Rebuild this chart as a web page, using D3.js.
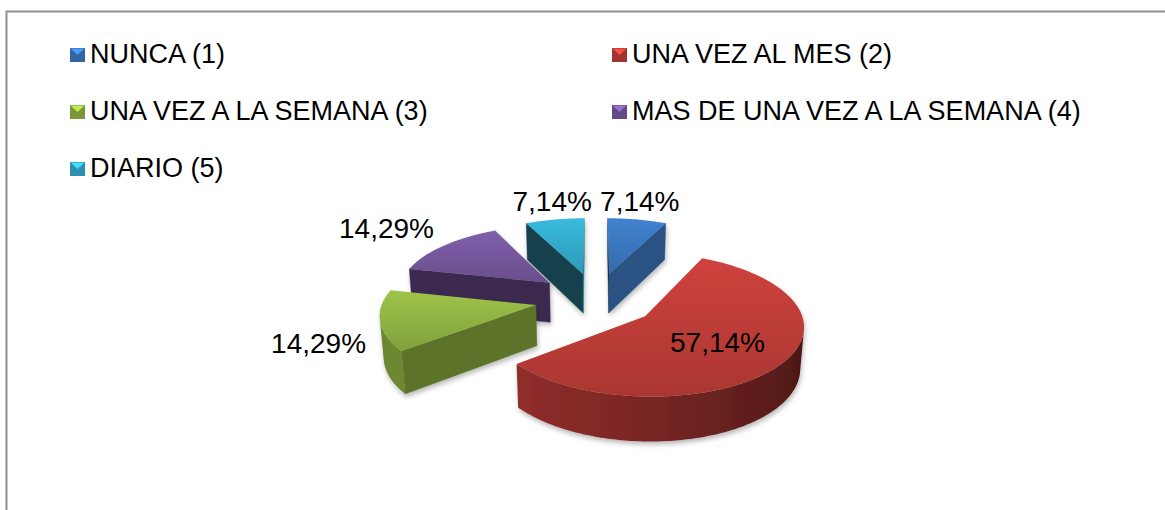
<!DOCTYPE html>
<html>
<head>
<meta charset="utf-8">
<script src="https://cdn.jsdelivr.net/npm/d3@7"></script>
<style>
  body { margin: 0; background: #fff; }
  text { font-family: "Liberation Sans", Arial, sans-serif; fill: #000; }
</style>
</head>
<body>
<div id="chart"></div>
<script>
// Data
const categories = [
  "NUNCA (1)",
  "UNA VEZ AL MES (2)",
  "UNA VEZ A LA SEMANA (3)",
  "MAS DE UNA VEZ A LA SEMANA (4)",
  "DIARIO (5)"
];
const counts = [1, 8, 2, 2, 1];

////////////////////////////////////////////////////////////////////////

let width = 1165;
let height = 510;

let svg = d3.select("#chart")
  .append("svg")
  .attr("width", width).attr("height", height);

let defs = svg.append("defs");

// soft shadow under each slice
let shadow = defs.append("filter").attr("id", "shadow")
  .attr("x", "-20%").attr("y", "-20%").attr("width", "140%").attr("height", "150%");
shadow.append("feDropShadow")
  .attr("dx", 1).attr("dy", 3).attr("stdDeviation", 2.5)
  .attr("flood-color", "#000").attr("flood-opacity", 0.28);

// chart frame (only top and left edges are inside the picture)
svg.append("path")
  .attr("d", "M6.5," + (height + 5) + "V11.5H" + (width + 5))
  .attr("fill", "none")
  .attr("stroke", "#8f8f8f")
  .attr("stroke-width", 2);

let color = d3.scaleOrdinal()
  .domain(categories)
  .range(["#3c79c2", "#c13d39", "#93b644", "#77589f", "#34adcf"]);

let total = d3.sum(counts);
let fmt = d3.formatLocale({decimal: ",", thousands: ".", grouping: [3], currency: ["", ""]}).format(".2%");

////////////////////////////////////////////////////////////////////////
// 3D projection of the pie: x right, y away from viewer, z up
const tilt = 28 * Math.PI / 180;
const camDist = 8, focal = 1200;
const explode = 0.4, depth = 0.3;
const cx = 596, cy = 299;

function rawProj(x, y, z) {
  let yc = z * Math.cos(tilt) + y * Math.sin(tilt);
  let dc = camDist + y * Math.cos(tilt) - z * Math.sin(tilt);
  return [focal * x / dc, -focal * yc / dc];
}
const origin = rawProj(0, 0, depth);
function proj(x, y, z) {
  let p = rawProj(x, y, z);
  return [cx + p[0] - origin[0], cy + p[1] - origin[1]];
}
const cam = [0, -camDist * Math.cos(tilt)];
function facing(px, py, ang) {
  return (cam[0] - px) * Math.sin(ang) + (cam[1] - py) * Math.cos(ang) > 0;
}
function shade(base, k) {
  let c = d3.rgb(base);
  return d3.rgb(c.r * k, c.g * k, c.b * k).formatHex();
}
function clamp01(v) { return Math.max(0, Math.min(1, v)); }

let arcs = d3.pie().sort(null).value(d => d)(counts).map((a, i) => {
  let m = (a.startAngle + a.endAngle) / 2;
  return Object.assign(a, {
    i: i, m: m, name: categories[i],
    ox: explode * Math.sin(m), oy: explode * Math.cos(m)
  });
});

function rim(a, t, z) {
  return proj(a.ox + Math.sin(t), a.oy + Math.cos(t), z);
}
function poly(pts) {
  return "M" + pts.map(p => p[0].toFixed(2) + "," + p[1].toFixed(2)).join("L") + "Z";
}
const lightAng = 250 * Math.PI / 180;
function wallShade(t) {
  return 0.35 + 0.4 * (Math.cos(t - lightAng) + 1) / 2;
}

// far slices first
let order = arcs.slice().sort((a, b) => b.oy - a.oy);

order.forEach(a => {
  let g = svg.append("g").attr("filter", "url(#shadow)");
  let base = color(a.name);

  // radial walls
  [[a.startAngle, a.startAngle - Math.PI / 2], [a.endAngle, a.endAngle + Math.PI / 2]].forEach(w => {
    if (!facing(a.ox, a.oy, w[1])) return;
    let k = 0.35 + 0.35 * (Math.cos(w[1] - Math.PI / 2) + 1) / 2;
    let c = shade(base, k);
    g.append("path")
      .attr("d", poly([proj(a.ox, a.oy, depth), rim(a, w[0], depth), rim(a, w[0], 0), proj(a.ox, a.oy, 0)]))
      .attr("fill", c).attr("stroke", c).attr("stroke-width", 0.4);
  });

  // outer curved wall: visible runs drawn as one path with a horizontal gradient
  let n = Math.ceil((a.endAngle - a.startAngle) / (Math.PI / 180));
  let step = (a.endAngle - a.startAngle) / n;
  let runs = [], cur = null;
  for (let s = 0; s <= n; s++) {
    let t = a.startAngle + s * step;
    if (facing(a.ox + Math.sin(t), a.oy + Math.cos(t), t)) {
      if (!cur) { cur = []; runs.push(cur); }
      cur.push(t);
    } else {
      cur = null;
    }
  }
  runs.forEach((run, ri) => {
    if (run.length < 2) return;
    let top = run.map(t => rim(a, t, depth));
    let bot = run.map(t => rim(a, t, 0)).reverse();
    let xs = top.map(p => p[0]);
    let x1 = xs[0], x2 = xs[xs.length - 1];
    let wid = "wall" + a.i + "_" + ri;
    let wg = defs.append("linearGradient").attr("id", wid)
      .attr("gradientUnits", "userSpaceOnUse")
      .attr("x1", x1).attr("y1", 0).attr("x2", x2).attr("y2", 0);
    let stops = run.map((t, j) => [(xs[j] - x1) / (x2 - x1 || 1), shade(base, wallShade(t))]);
    stops.filter((s, j) => j % 4 === 0 || j === stops.length - 1).forEach(s => {
      wg.append("stop").attr("offset", clamp01(s[0])).attr("stop-color", s[1]);
    });
    g.append("path")
      .attr("d", poly(top.concat(bot)))
      .attr("fill", "url(#" + wid + ")");
  });

  // top face with gradient
  let gid = "top" + a.i;
  let grad = defs.append("linearGradient").attr("id", gid)
    .attr("x1", 0).attr("y1", 0).attr("x2", 0).attr("y2", 1);
  grad.append("stop").attr("offset", "0%").attr("stop-color", d3.color(base).brighter(0.2));
  grad.append("stop").attr("offset", "100%").attr("stop-color", d3.color(base).darker(0.35));

  let pts = [proj(a.ox, a.oy, depth)];
  for (let s = 0; s <= n; s++) {
    pts.push(rim(a, a.startAngle + s * step, depth));
  }
  g.append("path")
    .attr("d", poly(pts))
    .attr("fill", "url(#" + gid + ")");
});

// data labels: big slice inside, others just outside the rim
const labelSize = 28;
arcs.forEach(a => {
  let frac = (a.endAngle - a.startAngle) / (2 * Math.PI);
  let t = svg.append("text")
    .attr("font-size", labelSize)
    .attr("text-anchor", "middle")
    .text(fmt(a.value / total));
  let w = t.node().getComputedTextLength();
  let hh = labelSize;
  let s = Math.sin(a.m), c = Math.cos(a.m);
  let px, py;
  if (frac > 0.5) {
    [px, py] = proj(a.ox + 0.55 * s, a.oy + 0.55 * c, depth);
  } else {
    let z = depth * clamp01(0.75 + c);
    let q = proj(a.ox + 1.1 * s, a.oy + 1.1 * c, z);
    px = q[0] + Math.sign(s) * clamp01((Math.abs(s) - 0.3) / 0.4) * w / 2;
    py = q[1] - Math.sign(c) * clamp01((Math.abs(c) - 0.2) / 0.4) * hh / 2;
  }
  t.attr("x", px).attr("y", py + labelSize * 0.36);
});

// legend, two columns
const legendSize = 27;
let legend = svg.selectAll(".legend")
  .data(categories)
  .enter()
  .append("g")
  .attr("class", "legend")
  .attr("transform", (d, i) => "translate(" + (70 + (i % 2) * 542) + "," + (63 + Math.floor(i / 2) * 57) + ")");

legend.append("rect")
  .attr("x", 0).attr("y", -15).attr("width", 15).attr("height", 14)
  .attr("fill", d => d3.color(color(d)).darker(0.5));
legend.append("path")
  .attr("d", "M0.5,-14.5H14.5L7.5,-8Z")
  .attr("fill", d => d3.color(color(d)).brighter(0.7));
legend.append("text")
  .attr("x", 20)
  .attr("y", 0)
  .attr("font-size", legendSize)
  .text(d => d);
</script>
</body>
</html>
